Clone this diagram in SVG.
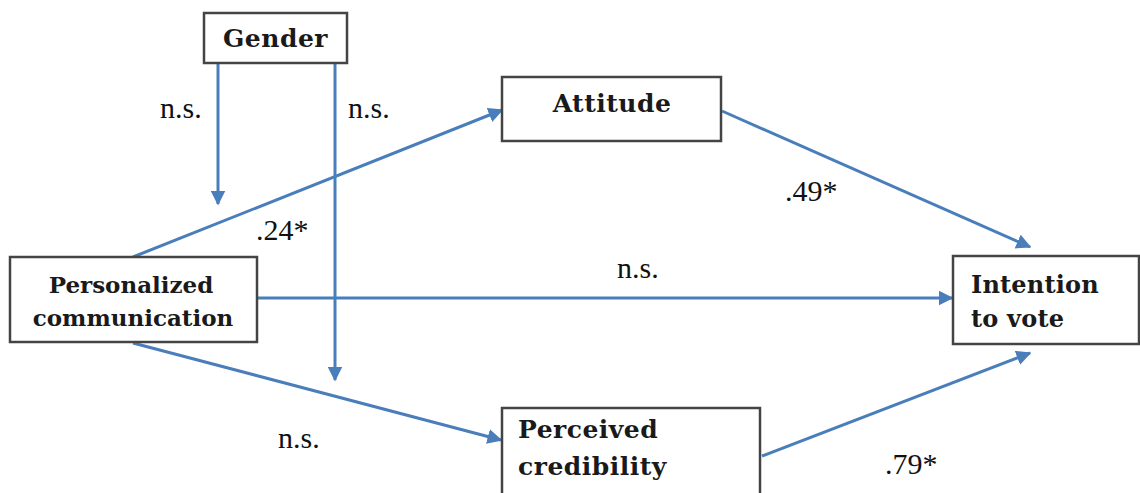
<svg xmlns="http://www.w3.org/2000/svg" width="1140" height="493" viewBox="0 0 1140 493">
<defs>
<marker id="ah" viewBox="0 0 10 10" refX="9" refY="5" markerWidth="5" markerHeight="5" orient="auto" markerUnits="strokeWidth">
<path d="M0,0 L10,5 L0,10 z" fill="#4a7ebb"/>
</marker>
<style>
.box{fill:#fff;stroke:#444;stroke-width:2.5}
.nt{font-family:'DejaVu Serif',serif;font-weight:bold;font-size:25px;letter-spacing:0.5px;fill:#1a1a1a}
.ns{font-size:23px;letter-spacing:0}
.nm{font-size:24px;letter-spacing:0.2px}
.lb{font-family:'Liberation Serif','Times New Roman',serif;font-size:30px;fill:#111}
.cn{stroke:#4a7ebb;stroke-width:3;fill:none}
</style>
</defs>
<rect width="1140" height="493" fill="#fff"/>
<g id="connectors">
<line class="cn" x1="218" y1="63" x2="218" y2="204" marker-end="url(#ah)"/>
<line class="cn" x1="335" y1="63" x2="335" y2="380" marker-end="url(#ah)"/>
<line class="cn" x1="133" y1="257" x2="502" y2="110" marker-end="url(#ah)"/>
<line class="cn" x1="258" y1="298" x2="952" y2="298" marker-end="url(#ah)"/>
<line class="cn" x1="133" y1="343" x2="501" y2="440" marker-end="url(#ah)"/>
<line class="cn" x1="722" y1="111" x2="1030" y2="247" marker-end="url(#ah)"/>
<line class="cn" x1="762" y1="456" x2="1030" y2="353" marker-end="url(#ah)"/>
</g>
<g id="labels">
<text class="lb" x="160" y="118">n.s.</text>
<text class="lb" x="348" y="118">n.s.</text>
<text class="lb" x="256" y="240">.24*</text>
<text class="lb" x="785" y="201">.49*</text>
<text class="lb" x="617" y="278">n.s.</text>
<text class="lb" x="278" y="448">n.s.</text>
<text class="lb" x="885" y="474">.79*</text>
</g>
<g id="gender">
<rect class="box" x="204" y="13" width="143" height="50"/>
<text class="nt" x="275.5" y="47" text-anchor="middle">Gender</text>
</g>
<g id="attitude">
<rect class="box" x="502" y="77" width="219" height="64"/>
<text class="nt" x="612" y="112" text-anchor="middle">Attitude</text>
</g>
<g id="personalized">
<rect class="box" x="10" y="257" width="247" height="85"/>
<text class="nt ns" x="131" y="293" text-anchor="middle">Personalized</text>
<text class="nt ns" x="133" y="326" text-anchor="middle">communication</text>
</g>
<g id="intention">
<rect class="box" x="953" y="256" width="186" height="88"/>
<text class="nt nm" x="971" y="293">Intention</text>
<text class="nt nm" x="971" y="327">to vote</text>
</g>
<g id="perceived">
<rect class="box" x="502" y="408" width="258" height="90"/>
<text class="nt" x="518" y="438">Perceived</text>
<text class="nt" x="518" y="475">credibility</text>
</g>
</svg>
